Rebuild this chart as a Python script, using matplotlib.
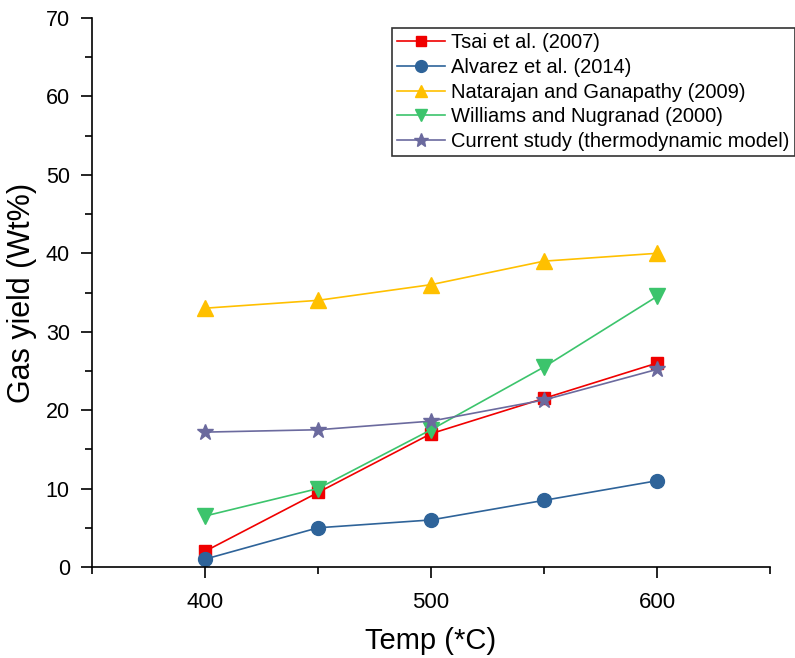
import matplotlib
matplotlib.use("Agg")
import matplotlib.pyplot as plt
from matplotlib.ticker import MultipleLocator

plt.rcParams['font.family'] = ['Liberation Sans', 'DejaVu Sans']

temps = [400, 450, 500, 550, 600]
tsai = [2, 9.5, 17, 21.5, 26]
alvarez = [1, 5, 6, 8.5, 11]
natarajan = [33, 34, 36, 39, 40]
williams = [6.5, 10, 17.5, 25.5, 34.5]
current = [17.2, 17.5, 18.6, 21.3, 25.2]

series = [
    ("Tsai et al. (2007)", tsai, "#f00000", "s", 9),
    ("Alvarez et al. (2014)", alvarez, "#2e6399", "o", 10),
    ("Natarajan and Ganapathy (2009)", natarajan, "#ffc000", "^", 11),
    ("Williams and Nugranad (2000)", williams, "#3cc46c", "v", 11),
    ("Current study (thermodynamic model)", current, "#6b6a9e", "*", 12),
]

fig = plt.figure(figsize=(7.95, 6.58), dpi=100)
ax = fig.add_axes([0.1157, 0.1383, 0.8529, 0.8343])

for label, vals, col, mk, ms in series:
    ax.plot(temps, vals, color=col, marker=mk, markersize=ms, linewidth=1.2, label=label)

ax.set_xlim(350, 650)
ax.set_ylim(0, 70)
ax.xaxis.set_major_locator(MultipleLocator(100))
ax.xaxis.set_minor_locator(MultipleLocator(50))
ax.yaxis.set_major_locator(MultipleLocator(10))
ax.yaxis.set_minor_locator(MultipleLocator(5))
ax.tick_params(which='major', direction='out', length=8, width=1.2, pad=8)
ax.tick_params(which='minor', direction='out', length=5, width=1.2)
ax.tick_params(axis='y', labelsize=15.5)
ax.tick_params(axis='x', labelsize=16, pad=10)
ax.spines['top'].set_visible(False)
ax.spines['right'].set_visible(False)
ax.spines['left'].set_linewidth(1.2)
ax.spines['bottom'].set_linewidth(1.2)

ax.set_xlabel("Temp (*C)", fontsize=21, labelpad=10)
ax.set_ylabel("Gas yield (Wt%)", fontsize=22, labelpad=6)

leg = ax.legend(loc='upper left', bbox_to_anchor=(0.493, 0.957), bbox_transform=fig.transFigure,
                fontsize=14.5, frameon=True, fancybox=False, borderpad=0.25, labelspacing=0.28,
                handlelength=2.4, handletextpad=0.3, borderaxespad=0, markerscale=0.85)
leg.get_frame().set_edgecolor('black')
leg.get_frame().set_linewidth(1.2)

fig.savefig("out.png", dpi=100)
